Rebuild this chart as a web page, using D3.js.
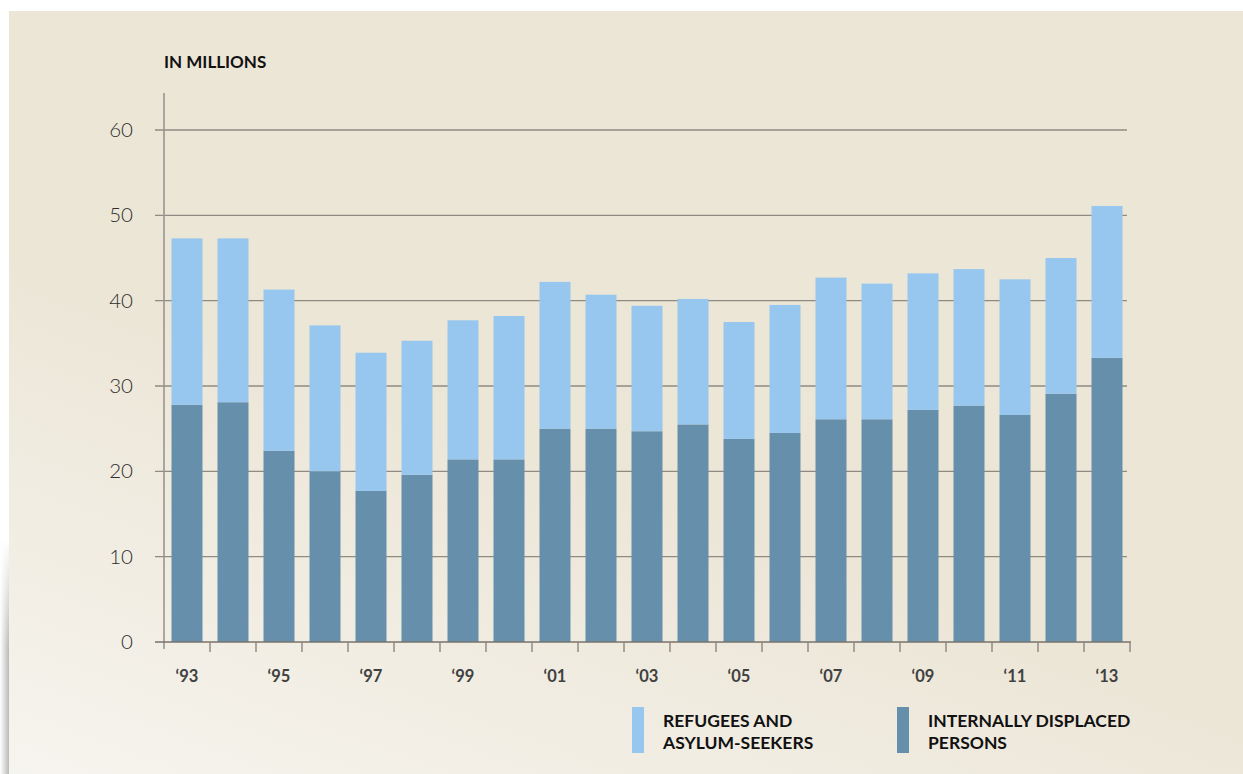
<!DOCTYPE html>
<html><head><meta charset="utf-8">
<script src="https://cdn.jsdelivr.net/npm/d3@7"></script>
<style>
html,body{margin:0;padding:0;background:#fff;}
svg{display:block;}
</style></head>
<body>
<svg id="chart" width="1243" height="774"></svg>
<script>
const years = ["1993","1994","1995","1996","1997","1998","1999","2000","2001","2002","2003","2004","2005","2006","2007","2008","2009","2010","2011","2012","2013"];
const idp = [27.8,28.1,22.4,20.0,17.7,19.6,21.4,21.4,25.0,25.0,24.7,25.5,23.8,24.5,26.1,26.1,27.2,27.7,26.6,29.1,33.3];
const totals = [47.3,47.3,41.3,37.1,33.9,35.3,37.7,38.2,42.2,40.7,39.4,40.2,37.5,39.5,42.7,42.0,43.2,43.7,42.5,45.0,51.1];
const refugees = totals.map((t,i)=>+(t-idp[i]).toFixed(1));
const yTicks = [0,10,20,30,40,50,60];
const xLabels = {"1993":"‘93","1995":"‘95","1997":"‘97","1999":"‘99","2001":"‘01","2003":"‘03","2005":"‘05","2007":"‘07","2009":"‘09","2011":"‘11","2013":"‘13"};
const seriesNames = ["REFUGEES AND|ASYLUM-SEEKERS","INTERNALLY DISPLACED|PERSONS"];
const colors = {ref:"#97c7ee", idp:"#668fab"};

const svg = d3.select("#chart");
const defs = svg.append("defs");
const g1 = defs.append("linearGradient").attr("id","bg").attr("x1","0").attr("y1","1").attr("x2","0.3").attr("y2","0.5");
g1.append("stop").attr("offset","0").attr("stop-color","#f6f4ee");
g1.append("stop").attr("offset","1").attr("stop-color","#ece6d7");
const g2 = defs.append("linearGradient").attr("id","sh").attr("x1","0").attr("y1","0").attr("x2","1").attr("y2","0");
g2.append("stop").attr("offset","0").attr("stop-color","#ffffff");
g2.append("stop").attr("offset","1").attr("stop-color","#b9b9b9");
const g3 = defs.append("linearGradient").attr("id","shv").attr("x1","0").attr("y1","0").attr("x2","0").attr("y2","1");
g3.append("stop").attr("offset","0").attr("stop-color","#fff").attr("stop-opacity",1);
g3.append("stop").attr("offset","1").attr("stop-color","#fff").attr("stop-opacity",0);

svg.append("rect").attr("x",0).attr("y",0).attr("width",1243).attr("height",774).attr("fill","#fff");
svg.append("rect").attr("x",0).attr("y",540).attr("width",9).attr("height",234).attr("fill","url(#sh)");
svg.append("rect").attr("x",0).attr("y",540).attr("width",9).attr("height",110).attr("fill","url(#shv)");
svg.append("rect").attr("x",9).attr("y",11).attr("width",1234).attr("height",763).attr("fill","url(#bg)");

const x = d3.scaleBand().domain(years).range([164,1130]).paddingInner(15/46).paddingOuter(7.5/46);
const y = d3.scaleLinear().domain([0,60]).range([642,130]);

// gridlines
svg.append("g").selectAll("line").data(yTicks.filter(d=>d>0)).join("line")
  .attr("x1",155).attr("x2",1127).attr("y1",d=>y(d)).attr("y2",d=>y(d))
  .attr("stroke","#8f8b83").attr("stroke-width",1.4);

// y axis labels
svg.append("g").selectAll("text").data(yTicks).join("text")
  .attr("x",133).attr("y",d=>y(d)+7).attr("text-anchor","end")
  .attr("font-family","Lato, 'Open Sans', sans-serif").attr("font-weight",300)
  .attr("font-size",20.5).attr("fill","#2e2e2e").text(d=>d);

// bars
const data = years.map((yr,i)=>({yr, idp:idp[i], ref:refugees[i]}));
const bars = svg.append("g");
bars.selectAll("rect.idp").data(data).join("rect").attr("class","idp")
  .attr("x",d=>x(d.yr)).attr("width",x.bandwidth())
  .attr("y",d=>y(d.idp)).attr("height",d=>y(0)-y(d.idp)).attr("fill",colors.idp);
bars.selectAll("rect.ref").data(data).join("rect").attr("class","ref")
  .attr("x",d=>x(d.yr)).attr("width",x.bandwidth())
  .attr("y",d=>y(d.idp+d.ref)).attr("height",d=>y(d.idp)-y(d.idp+d.ref)).attr("fill",colors.ref);

// y axis line
svg.append("line").attr("x1",164).attr("x2",164).attr("y1",93).attr("y2",649)
  .attr("stroke","#9a958d").attr("stroke-width",1.6);
// x axis baseline
svg.append("line").attr("x1",155).attr("x2",1131).attr("y1",642).attr("y2",642)
  .attr("stroke","#77736d").attr("stroke-width",1.6);
// x ticks at band boundaries
const step = x.step();
const bounds = years.map(yr=>x(yr)-x.paddingInner()*step/2).concat([x(years[years.length-1])+x.bandwidth()+x.paddingInner()*step/2]);
svg.append("g").selectAll("line").data(bounds.slice(1)).join("line")
  .attr("x1",d=>d).attr("x2",d=>d).attr("y1",642).attr("y2",652)
  .attr("stroke","#8a8680").attr("stroke-width",1.4);

// x labels
svg.append("g").selectAll("text").data(years.filter(yr=>xLabels[yr])).join("text")
  .attr("x",d=>x(d)+x.bandwidth()/2).attr("y",682).attr("text-anchor","middle")
  .attr("font-family","Lato, sans-serif").attr("font-weight",700)
  .attr("font-size",16.5).attr("fill","#414141").text(d=>xLabels[d]);

// unit label
svg.append("text").attr("x",164).attr("y",68)
  .attr("font-family","Lato, sans-serif").attr("font-weight",700)
  .attr("font-size",17).attr("fill","#111").text("IN MILLIONS");

// legend
const leg = [{c:colors.ref, x:632, name:seriesNames[0]},{c:colors.idp, x:897, name:seriesNames[1]}];
const lg = svg.append("g").selectAll("g").data(leg).join("g");
lg.append("rect").attr("x",d=>d.x).attr("y",707).attr("width",12).attr("height",46).attr("fill",d=>d.c);
lg.each(function(d){
  const t = d3.select(this).append("text").attr("font-family","Lato, sans-serif").attr("font-weight",700)
    .attr("font-size",17.5).attr("fill","#111");
  d.name.split("|").forEach((s,i)=>{
    t.append("tspan").attr("x",d.x+31).attr("y",727+i*22).text(s);
  });
});
</script>
</body></html>
